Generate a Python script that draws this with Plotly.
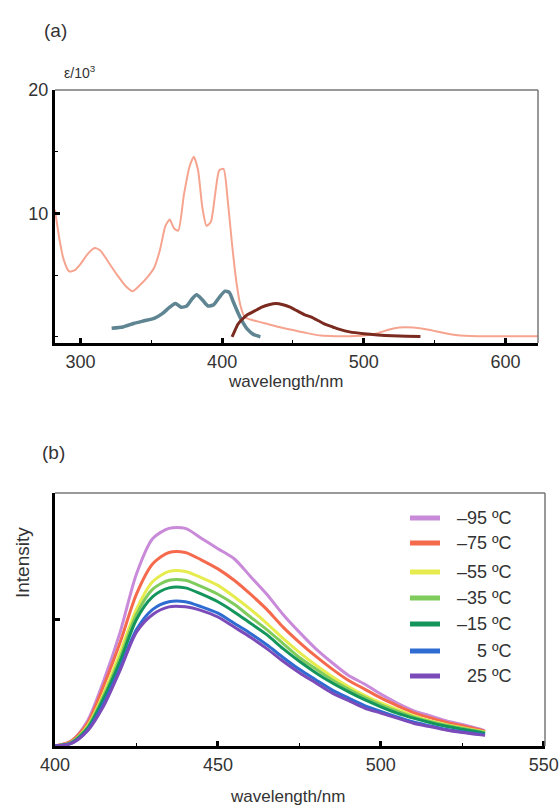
import plotly.graph_objects as go

# ---------------- Panel (a) data ----------------
abs_salmon_wl = [282, 285, 288, 292, 296, 300, 305, 310, 314, 320, 326, 332, 337, 342, 347, 352, 356, 360, 363, 366, 369, 373, 377, 380, 383, 386, 389, 392, 395, 398, 401, 404, 407, 410, 413, 416, 420, 425, 430, 440, 450, 460, 470, 480, 490, 500, 510, 518, 525, 535, 545, 555, 565, 580, 600, 623]
abs_salmon_eps = [10.3, 8.0, 6.3, 5.3, 5.4, 5.9, 6.7, 7.2, 7.0, 6.0, 5.0, 4.1, 3.7, 4.2, 4.8, 5.6, 7.0, 9.0, 9.5, 8.8, 8.6, 11.5, 13.8, 14.6, 13.5, 10.5, 9.0, 9.3, 11.5, 13.5, 13.6, 11.0, 7.5, 4.5, 2.5, 1.6, 1.4, 1.25, 1.1, 0.8, 0.55, 0.3, 0.1, 0.05, 0.05, 0.1, 0.3, 0.6, 0.75, 0.75, 0.6, 0.35, 0.15, 0.05, 0.05, 0.05]

abs_gray_wl = [322, 330, 338, 345, 352, 358, 363, 367, 371, 375, 379, 382, 386, 390, 394, 398, 402, 405, 408, 411, 414, 418, 422, 427]
abs_gray_eps = [0.7, 0.8, 1.1, 1.3, 1.5, 1.9, 2.4, 2.7, 2.4, 2.5, 3.1, 3.4, 3.0, 2.5, 2.6, 3.2, 3.7, 3.6, 2.8, 2.0, 1.3, 0.6, 0.2, 0.0]

abs_brown_wl = [407, 409, 411, 414, 418, 423, 428, 433, 438, 443, 448, 453, 458, 463, 468, 473, 478, 483, 490, 500, 510, 520, 530, 540]
abs_brown_eps = [0.0, 0.5, 1.0, 1.4, 1.8, 2.1, 2.4, 2.6, 2.7, 2.6, 2.4, 2.1, 1.8, 1.6, 1.3, 1.0, 0.8, 0.6, 0.4, 0.25, 0.15, 0.08, 0.04, 0.02]

a_xticks = [300, 400, 500, 600]
a_yticks = [10, 20]

# ---------------- Panel (b) data ----------------
em_wl = [400, 405, 410, 415, 420, 425, 430, 435, 440, 445, 450, 455, 460, 465, 470, 475, 480, 485, 490, 495, 500, 505, 510, 515, 520, 525, 530, 532]
em_labels = ["\u201395 \u00baC", "\u201375 \u00baC", "\u201355 \u00baC", "\u201335 \u00baC", "\u201315 \u00baC", "5 \u00baC", "25 \u00baC"]
em_m95 = [0, 0.02, 0.10, 0.26, 0.45, 0.68, 0.82, 0.86, 0.86, 0.82, 0.78, 0.74, 0.67, 0.60, 0.52, 0.45, 0.385, 0.33, 0.28, 0.245, 0.205, 0.17, 0.14, 0.12, 0.10, 0.085, 0.068, 0.06]
em_m75 = [0, 0.02, 0.09, 0.24, 0.41, 0.60, 0.72, 0.765, 0.765, 0.735, 0.70, 0.655, 0.60, 0.54, 0.47, 0.41, 0.355, 0.305, 0.26, 0.225, 0.19, 0.16, 0.132, 0.112, 0.094, 0.08, 0.065, 0.058]
em_m55 = [0, 0.015, 0.08, 0.21, 0.37, 0.54, 0.65, 0.69, 0.69, 0.665, 0.635, 0.59, 0.54, 0.485, 0.425, 0.37, 0.32, 0.275, 0.235, 0.20, 0.17, 0.145, 0.12, 0.10, 0.085, 0.072, 0.06, 0.055]
em_m35 = [0, 0.015, 0.075, 0.20, 0.35, 0.52, 0.62, 0.655, 0.655, 0.63, 0.60, 0.56, 0.51, 0.46, 0.405, 0.35, 0.305, 0.262, 0.225, 0.192, 0.163, 0.138, 0.115, 0.097, 0.082, 0.07, 0.058, 0.053]
em_m15 = [0, 0.012, 0.07, 0.19, 0.335, 0.50, 0.59, 0.625, 0.625, 0.60, 0.57, 0.53, 0.485, 0.44, 0.385, 0.335, 0.29, 0.25, 0.215, 0.183, 0.155, 0.13, 0.11, 0.093, 0.078, 0.066, 0.055, 0.05]
em_p5 = [0, 0.01, 0.062, 0.17, 0.31, 0.46, 0.54, 0.57, 0.57, 0.55, 0.525, 0.485, 0.445, 0.40, 0.35, 0.303, 0.262, 0.222, 0.19, 0.16, 0.137, 0.115, 0.095, 0.08, 0.066, 0.056, 0.047, 0.044]
em_p25 = [0, 0.01, 0.06, 0.16, 0.30, 0.45, 0.52, 0.55, 0.55, 0.535, 0.51, 0.47, 0.43, 0.385, 0.335, 0.29, 0.25, 0.21, 0.18, 0.15, 0.13, 0.11, 0.09, 0.077, 0.063, 0.053, 0.045, 0.042]
em_series = [em_m95, em_m75, em_m55, em_m35, em_m15, em_p5, em_p25]
em_colors = ["#c98ad9", "#f5694c", "#e6ec4e", "#7fcb5c", "#14955c", "#2f6cd1", "#7b4bba"]

b_xticks = [400, 450, 500, 550]

W, H = 559, 807
def px(x):
    return x / W
def py(y):
    return 1 - y / H

FONT = "Liberation Sans, Arial, sans-serif"
TXT = "#333333"

fig = go.Figure()

fig.add_trace(go.Scatter(x=abs_salmon_wl, y=abs_salmon_eps, mode="lines", line=dict(color="#f6a48f", width=2, shape="spline", smoothing=0.6), xaxis="x", yaxis="y", showlegend=False))
fig.add_trace(go.Scatter(x=abs_gray_wl, y=abs_gray_eps, mode="lines", line=dict(color="#5e8591", width=3.5, shape="spline", smoothing=0.6), xaxis="x", yaxis="y", showlegend=False))
fig.add_trace(go.Scatter(x=abs_brown_wl, y=abs_brown_eps, mode="lines", line=dict(color="#7a2a1f", width=3, shape="spline", smoothing=0.6), xaxis="x", yaxis="y", showlegend=False))

for vals, col, lab in zip(em_series, em_colors, em_labels):
    fig.add_trace(go.Scatter(x=em_wl, y=vals, mode="lines", name=lab, line=dict(color=col, width=3, shape="spline", smoothing=0.8), xaxis="x2", yaxis="y2", showlegend=False))

ax_common = dict(showgrid=False, zeroline=False, ticks="inside", tickcolor="black", tickwidth=3, ticklen=5,
                 tickfont=dict(family=FONT, size=18, color=TXT), showline=True, linecolor="black", linewidth=3,
                 automargin=False)
minor_common = dict(ticks="inside", ticklen=3, tickwidth=1, tickcolor="black")

fig.update_layout(
    width=W, height=H, margin=dict(l=0, r=0, t=0, b=0, pad=0), autosize=False,
    paper_bgcolor="white", plot_bgcolor="white",
    xaxis=dict(domain=[px(55), px(538)], range=[282, 623], anchor="y", tickvals=a_xticks,
               minor=dict(dtick=50, **minor_common), **ax_common),
    yaxis=dict(domain=[py(343), py(90)], range=[-0.5, 20], anchor="x", tickvals=a_yticks,
               minor=dict(dtick=5, **minor_common), **ax_common),
    xaxis2=dict(domain=[px(55), px(545)], range=[400, 550.4], anchor="y2", tickvals=b_xticks,
                minor=dict(dtick=25, **minor_common), **ax_common),
    yaxis2=dict(domain=[py(746), py(493)], range=[0, 1.0], anchor="x2", tickvals=[0.5],
                showticklabels=False, **ax_common),
)

for xr, yr in (("x domain", "y domain"), ("x2 domain", "y2 domain")):
    fig.add_shape(type="line", xref=xr, yref=yr, x0=0, x1=1, y0=1, y1=1, line=dict(color="#777777", width=1.5))
    fig.add_shape(type="line", xref=xr, yref=yr, x0=1, x1=1, y0=0, y1=1, line=dict(color="#777777", width=1.5))

def ann(text, x, y, size, xanchor="center", angle=0):
    fig.add_annotation(text=text, x=px(x), y=py(y), xref="paper", yref="paper", showarrow=False,
                       xanchor=xanchor, yanchor="middle", textangle=angle,
                       font=dict(family=FONT, size=size, color=TXT))

ann("(a)", 42, 30, 19, "left")
ann("\u03b5/10<sup>3</sup>", 62, 72, 14, "left")
ann("wavelength/nm", 285, 381, 17)
ann("(b)", 40, 452, 19, "left")
ann("Intensity", 22, 563, 19, angle=-90)
ann("wavelength/nm", 287, 796, 17)

leg_y = [518, 543, 572, 598, 624, 651, 676]
for yy, col, lab in zip(leg_y, em_colors, em_labels):
    fig.add_shape(type="line", xref="paper", yref="paper", x0=px(410), x1=px(440), y0=py(yy), y1=py(yy),
                  line=dict(color=col, width=5))
    ann(lab, 514, yy, 18, "right")

fig.write_html("out.html", config={"responsive": False, "displayModeBar": False},
               post_script="document.body.style.margin='0';document.body.style.overflow='hidden';")
